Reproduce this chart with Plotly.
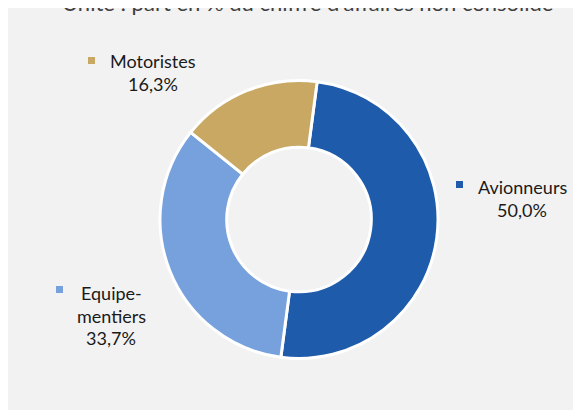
import plotly.graph_objects as go

# ---- data ----
categories = ["Avionneurs", "Equipementiers", "Motoristes"]
shares = [50.0, 33.7, 16.3]
label_lines = [["Avionneurs"], ["Equipe-", "mentiers"], ["Motoristes"]]
colors = ["#1F5BAB", "#77A1DD", "#C8A862"]
subtitle = "Unité : part en % du chiffre d'affaires non consolidé"

W, H = 581, 410
FONT = "Lato"
OFF = 8  # page body margin

def px(x):
    return (x - OFF) / W

def py(y):
    return (H - (y - OFF)) / H

cx, cy, r = 299, 219.5, 139
fig = go.Figure(go.Pie(
    labels=categories,
    values=shares,
    sort=False,
    direction="clockwise",
    rotation=7.5,
    hole=0.52,
    marker=dict(colors=colors, line=dict(color="white", width=3)),
    textinfo="none",
    showlegend=False,
    domain=dict(x=[px(cx - r), px(cx + r)], y=[py(cy + r), py(cy - r)]),
))

# label layout (pixel centres of first line, line spacing, marker square)
label_pos = [
    dict(x=522, y=187, sq=(456, 181)),
    dict(x=111, y=293, sq=(56, 286)),
    dict(x=153, y=61, sq=(88, 57)),
]
step = 22.5
annotations = []
shapes = []
for lines, val, col, pos in zip(label_lines, shares, colors, label_pos):
    all_lines = lines + [f"{val:.1f}".replace(".", ",") + "%"]
    for i, t in enumerate(all_lines):
        annotations.append(dict(
            text=t, xref="paper", yref="paper", x=px(pos["x"]), y=py(pos["y"] + i * step),
            xanchor="center", yanchor="middle", showarrow=False,
            font=dict(family=FONT, size=18, color="#1a1a1a")))
    sx, sy = pos["sq"]
    shapes.append(dict(type="rect", xref="paper", yref="paper",
                       x0=px(sx), x1=px(sx + 7), y0=py(sy + 7), y1=py(sy),
                       fillcolor=col, line=dict(width=0)))

annotations.append(dict(
    text=subtitle, xref="paper", yref="paper", x=px(307), y=py(18),
    xanchor="center", yanchor="bottom", showarrow=False,
    font=dict(family=FONT, size=22, color="#404040")))

fig.update_layout(
    width=W, height=H,
    margin=dict(l=0, r=0, t=0, b=0),
    paper_bgcolor="#F2F2F2",
    plot_bgcolor="#F2F2F2",
    annotations=annotations,
    shapes=shapes,
)
fig.write_html("out.html")
